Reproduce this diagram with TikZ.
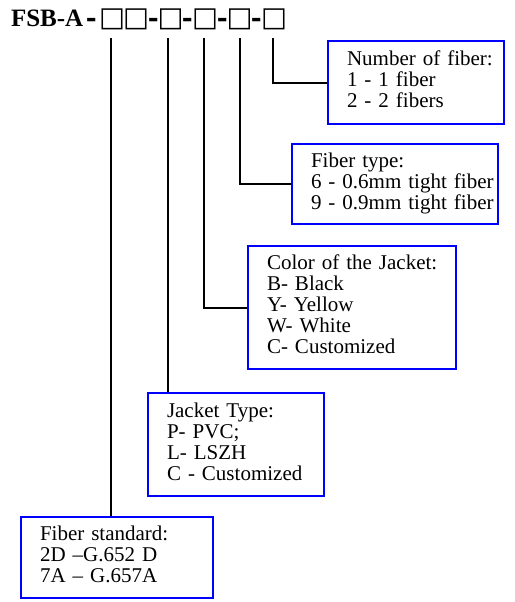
\documentclass[tikz,border=0pt]{standalone}
\usepackage{graphicx}
\usepackage{fontspec}
\setmainfont{Liberation Serif}
\newfontfamily\boxfont{DejaVu Sans}

% one empty code box and one dash of the part number
\newcommand{\codesq}{\makebox[24pt]{\boxfont\mdseries\fontsize{27.5pt}{27.5pt}\selectfont □}}
\newcommand{\codedash}[1]{\makebox[#1]{\raisebox{-2.6pt}{\scalebox{1.25}[1.6]{-}}}}

\begin{document}
\begin{tikzpicture}[x=1pt,y=-1pt,line width=2pt]

\tikzstyle{infobox}=[draw=blue,line width=2pt,anchor=north west,align=left,
inner xsep=19pt,inner ysep=0pt,font=\fontsize{21pt}{21pt}\selectfont]

\useasboundingbox (0,0) rectangle (514,602);

\node[anchor=base west,inner sep=0pt,font=\fontsize{25pt}{25pt}\selectfont\bfseries]
  (H) at (10,27) {FSB-A\codedash{17pt}\codesq\codesq\codedash{10.5pt}\codesq
  \codedash{10.5pt}\codesq\codedash{10.5pt}\codesq\codedash{10.5pt}\codesq};

\coordinate (a) at (111,38);
\coordinate (b) at (168,38);
\coordinate (c) at (204,38);
\coordinate (d) at (240,38);
\coordinate (e) at (273,38);

\node[infobox,text width=138pt,minimum height=83pt] (N) at (327,40)
  {\begin{tabular}{@{}l@{}}Number of fiber:\\1 - 1 fiber\\2 - 2 fibers\end{tabular}};
\node[infobox,text width=168pt,minimum height=80pt] (T) at (291,143)
  {\begin{tabular}{@{}l@{}}Fiber type:\\6 - 0.6mm tight fiber\\9 - 0.9mm tight fiber\end{tabular}};
\node[infobox,text width=170pt,minimum height=123pt] (C) at (247,245)
  {\begin{tabular}{@{}l@{}}Color of the Jacket:\\B- Black\\Y- Yellow\\W- White\\C- Customized\end{tabular}};
\node[infobox,text width=138pt,minimum height=103pt] (J) at (147,392)
  {\begin{tabular}{@{}l@{}}Jacket Type:\\P- PVC;\\L- LSZH\\C - Customized\end{tabular}};
\node[infobox,text width=154pt,minimum height=81pt] (S) at (20,516)
  {\begin{tabular}{@{}l@{}}Fiber standard:\\2D –G.652 D\\7A – G.657A\end{tabular}};

\draw (e) |- (N.west);
\draw (d) |- (T.west);
\draw (c) |- (C.west);
\draw (b) -- (b |- J.north);
\draw (a) -- (a |- S.north);
\end{tikzpicture}
\end{document}
